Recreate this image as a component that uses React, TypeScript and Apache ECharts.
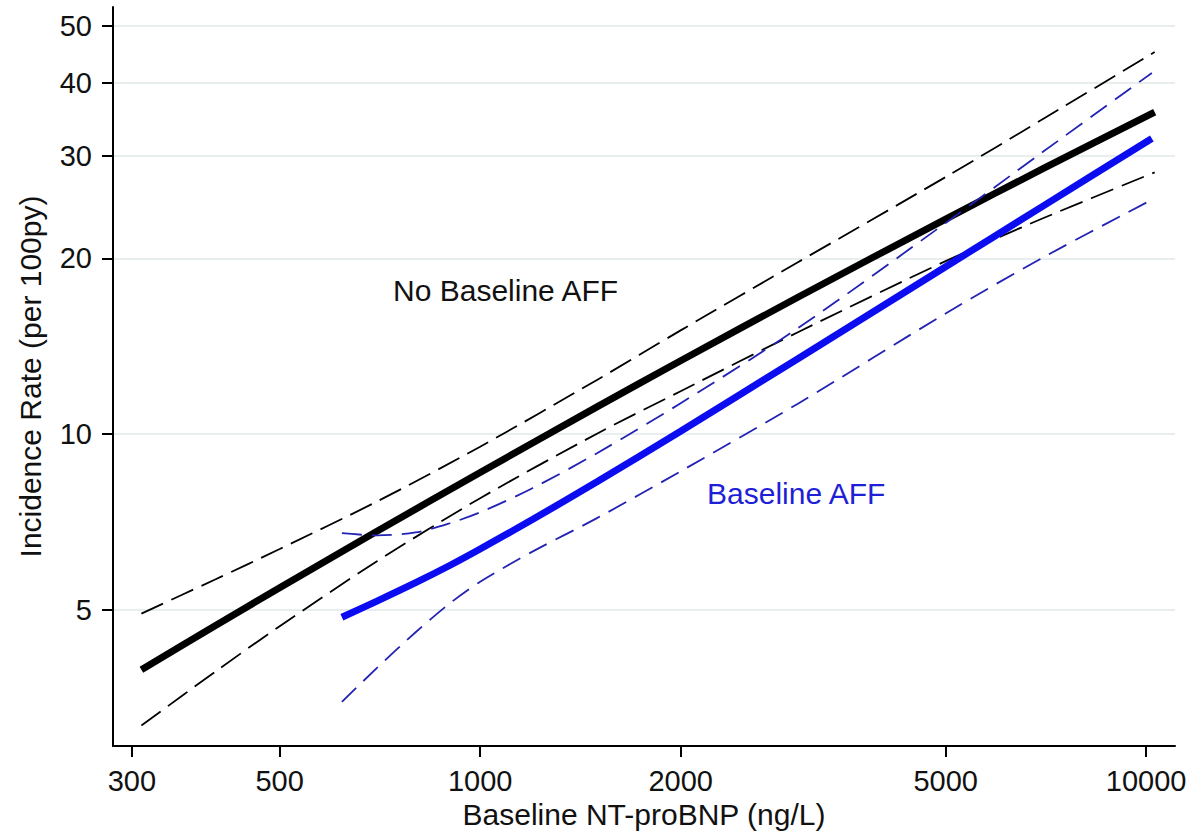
import React, { useEffect, useRef } from "react";
import * as echarts from "echarts";

// Axis tick values
const xTicks = [300, 500, 1000, 2000, 5000, 10000];
const yTicks = [5, 10, 20, 30, 40, 50];

// No Baseline AFF: NT-proBNP (ng/L) and incidence rate (per 100py) with CI
const noAffX = [310, 400, 500, 700, 1000, 1500, 2000, 3000, 5000, 7000, 10300];
const noAffRate = [3.95, 4.7, 5.46, 6.82, 8.6, 11.15, 13.36, 17.16, 23.36, 28.49, 35.6];
const noAffUpper = [4.93, 5.64, 6.36, 7.67, 9.52, 12.4, 15.06, 19.7, 27.57, 34.65, 45.13];
const noAffLower = [3.17, 3.92, 4.69, 6.06, 7.77, 10.03, 11.85, 14.95, 19.79, 23.43, 28.08];

// Baseline AFF
const affX = [620, 700, 800, 900, 1000, 1200, 1500, 2000, 3000, 5000, 7000, 10200];
const affRate = [4.86, 5.18, 5.57, 5.96, 6.36, 7.15, 8.3, 10.12, 13.47, 19.36, 24.58, 32.1];
const affUpper = [6.77, 6.71, 6.79, 7.04, 7.35, 8.09, 9.29, 11.3, 15.19, 23.0, 30.45, 41.56];
const affLower = [3.48, 3.98, 4.58, 5.13, 5.59, 6.3, 7.19, 8.64, 11.28, 16.1, 20.07, 25.21];

const FONT = "'Liberation Sans', Arial, Helvetica, sans-serif";
const BLACK = "#000000";
const BLUE = "#0c0cf0";
const BLUE_DASH = "#2222b4";
const GRID = "#e8eeee";

const pairs = (xs: number[], ys: number[]) =>
  xs.map((x, i) => [Math.log10(x), Math.log10(ys[i])]);

const fmt = (v: number) => String(Math.round(Math.pow(10, v)));

export default function App() {
  const ref = useRef<HTMLDivElement>(null);

  useEffect(() => {
    if (!ref.current) return;
    const chart = echarts.init(ref.current, undefined, { renderer: "svg" });

    const xTickVals = xTicks.map((v) => Math.log10(v));
    const yTickVals = yTicks.map((v) => Math.log10(v));

    const solid = (name: string, xs: number[], ys: number[], color: string) => ({
      name,
      type: "line",
      data: pairs(xs, ys),
      showSymbol: false,
      smooth: 0.3,
      lineStyle: { color, width: 7, type: "solid", cap: "butt" },
      silent: true,
    });
    const dashed = (name: string, xs: number[], ys: number[], color: string, dash: number[]) => ({
      name,
      type: "line",
      data: pairs(xs, ys),
      showSymbol: false,
      smooth: 0.3,
      lineStyle: { color, width: 1.8, type: dash, cap: "butt" },
      silent: true,
    });

    chart.setOption({
      animation: false,
      backgroundColor: "#ffffff",
      grid: { left: 113, right: 21, top: 7, bottom: 92, containLabel: false },
      xAxis: {
        type: "value",
        min: Math.log10(281),
        max: Math.log10(11050),
        axisLine: { show: true, onZero: false, lineStyle: { color: BLACK, width: 2 } },
        axisTick: {
          show: true,
          customValues: xTickVals,
          length: 11,
          lineStyle: { color: BLACK, width: 2 },
        },
        axisLabel: {
          customValues: xTickVals,
          formatter: fmt,
          fontSize: 29,
          color: "#111",
          fontFamily: FONT,
          margin: 20,
        },
        splitLine: { show: false },
        name: "Baseline NT-proBNP (ng/L)",
        nameLocation: "middle",
        nameGap: 52,
        nameTextStyle: { fontSize: 30, color: "#111", fontFamily: FONT },
      },
      yAxis: {
        type: "value",
        min: Math.log10(2.925),
        max: Math.log10(53.9),
        axisLine: { show: true, onZero: false, lineStyle: { color: BLACK, width: 2 } },
        axisTick: {
          show: true,
          customValues: yTickVals,
          length: 11,
          lineStyle: { color: BLACK, width: 2 },
        },
        axisLabel: {
          customValues: yTickVals,
          formatter: fmt,
          fontSize: 29,
          color: "#111",
          fontFamily: FONT,
          margin: 21,
        },
        splitLine: { show: true, lineStyle: { color: GRID, width: 2 } },
        name: "Incidence Rate (per 100py)",
        nameLocation: "middle",
        nameRotate: 90,
        nameGap: 68,
        nameTextStyle: { fontSize: 30, color: "#111", fontFamily: FONT },
      },
      series: [
        solid("No Baseline AFF", noAffX, noAffRate, BLACK),
        dashed("No Baseline AFF upper", noAffX, noAffUpper, BLACK, [24, 9]),
        dashed("No Baseline AFF lower", noAffX, noAffLower, BLACK, [24, 9]),
        solid("Baseline AFF", affX, affRate, BLUE),
        dashed("Baseline AFF upper", affX, affUpper, BLUE_DASH, [20, 10]),
        dashed("Baseline AFF lower", affX, affLower, BLUE_DASH, [20, 10]),
      ],
      graphic: [
        {
          type: "text",
          x: 393,
          y: 290,
          style: {
            text: "No Baseline AFF",
            fontSize: 30,
            fontFamily: FONT,
            fill: "#111",
            verticalAlign: "middle",
          },
        },
        {
          type: "text",
          x: 707,
          y: 493,
          style: {
            text: "Baseline AFF",
            fontSize: 30,
            fontFamily: FONT,
            fill: "#1f1fd6",
            verticalAlign: "middle",
          },
        },
      ],
    });

    return () => chart.dispose();
  }, []);

  return (
    <div
      ref={ref}
      style={{ position: "fixed", left: 0, top: 0, width: 1196, height: 838, background: "#fff" }}
    />
  );
}
